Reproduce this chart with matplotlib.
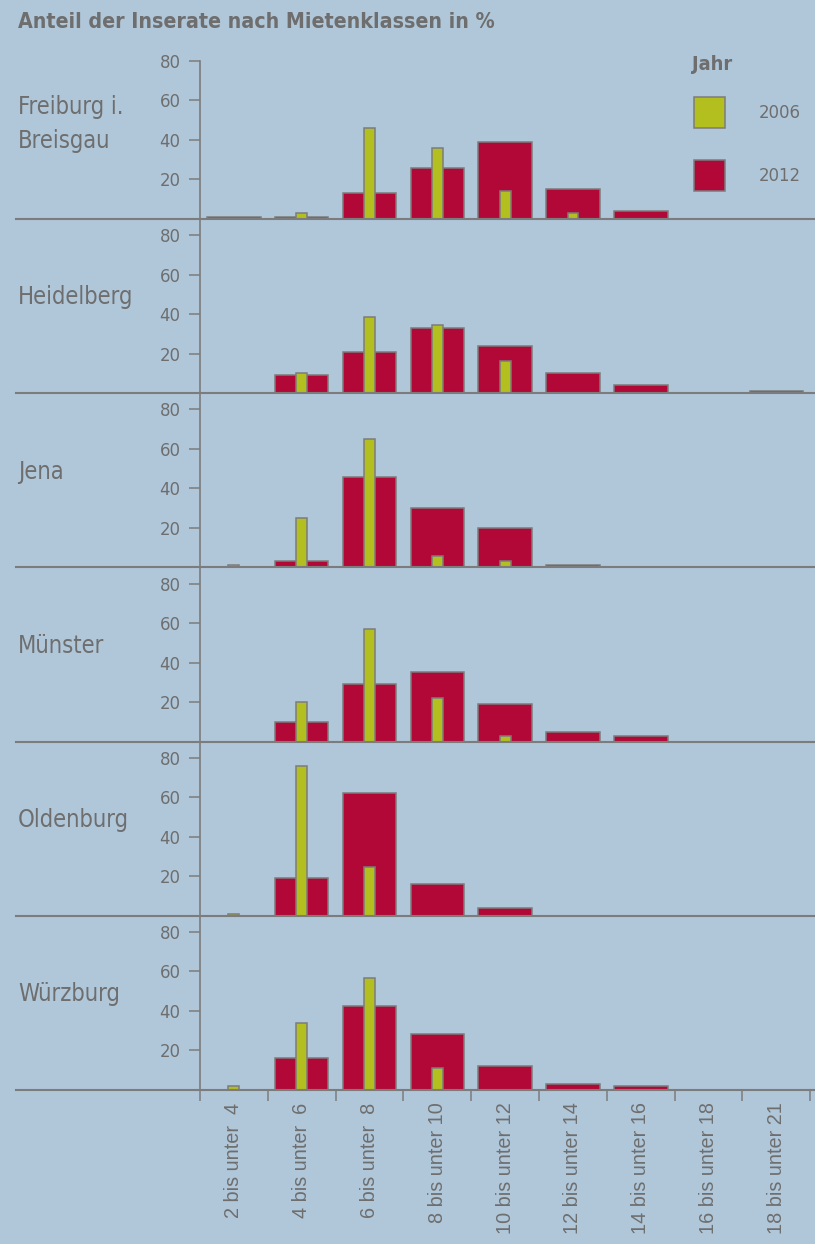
import matplotlib
matplotlib.use("Agg")
import matplotlib.pyplot as plt
import matplotlib.transforms as mtransforms
from matplotlib import font_manager
import numpy as np

# Mietenklassen (Euro pro m2)
kategorien = ["2 bis unter  4", "4 bis unter  6", "6 bis unter  8", "8 bis unter 10",
              "10 bis unter 12", "12 bis unter 14", "14 bis unter 16", "16 bis unter 18",
              "18 bis unter 21"]

staedte = ["Freiburg i.\nBreisgau", "Heidelberg", "Jena", "Münster", "Oldenburg", "Würzburg"]

# Anteil der Inserate in %
freiburg_2006 = [0, 3, 46, 36, 14, 3, 0, 0, 0]
freiburg_2012 = [1, 1, 13, 26, 39, 15, 4, 0, 0]
heidelberg_2006 = [0, 10, 38.5, 34.5, 16.5, 0, 0, 0, 0]
heidelberg_2012 = [0, 9, 21, 33, 24, 10, 4, 0, 1]
jena_2006 = [1, 25, 65, 6, 3, 0, 0, 0, 0]
jena_2012 = [0, 3, 46, 30, 20, 1, 0, 0, 0]
muenster_2006 = [0, 20, 57, 22, 3, 0, 0, 0, 0]
muenster_2012 = [0, 10, 29, 35, 19, 5, 3, 0, 0]
oldenburg_2006 = [1, 76, 24.5, 0, 0, 0, 0, 0, 0]
oldenburg_2012 = [0, 19, 62, 16, 4, 0, 0, 0, 0]
wuerzburg_2006 = [2, 34, 56.5, 11, 0, 0, 0, 0, 0]
wuerzburg_2012 = [0, 16, 42.5, 28.5, 12, 3, 2, 0, 0]

werte_2006 = [freiburg_2006, heidelberg_2006, jena_2006, muenster_2006, oldenburg_2006, wuerzburg_2006]
werte_2012 = [freiburg_2012, heidelberg_2012, jena_2012, muenster_2012, oldenburg_2012, wuerzburg_2012]

hintergrund = "#b0c7da"
rot = "#b20838"
gelb = "#b3be1f"
rand = "#7c7c7c"
textgrau = "#6e6e6e"

# schmale DejaVu, falls installiert
schmal_da = any(f.name == "DejaVu Sans" and "condensed" in str(f.stretch)
                for f in font_manager.fontManager.ttflist)
if schmal_da:
    schrift = {"family": "DejaVu Sans", "stretch": "condensed"}
    k = 1.1
else:
    schrift = {"family": "DejaVu Sans", "stretch": "normal"}
    k = 1.0

W, H = 815, 1244
fig = plt.figure(figsize=(W / 100, H / 100), dpi=100, facecolor=hintergrund)

panel_h = 174.2
basis0 = 219
x = np.arange(len(kategorien))

for i, stadt in enumerate(staedte):
    unten = basis0 + i * panel_h
    ax = fig.add_axes([200 / W, 1 - unten / H, 615 / W, panel_h / H])
    ax.set_facecolor("none")

    w12 = np.array(werte_2012[i], dtype=float)
    w06 = np.array(werte_2006[i], dtype=float)
    m12 = w12 > 0
    m06 = w06 > 0
    b12 = ax.bar(x[m12], w12[m12], width=0.79, color=rot, edgecolor=rand, linewidth=1.1, zorder=2)
    b06 = ax.bar(x[m06], w06[m06], width=0.16, color=gelb, edgecolor=rand, linewidth=1.1, zorder=3)
    if i == 0:
        h12, h06 = b12, b06

    ax.set_xlim(-0.5, 8.57)
    ax.set_ylim(0, 88.2)

    for s in ["top", "right", "bottom"]:
        ax.spines[s].set_visible(False)
    ax.spines["left"].set_color(rand)
    ax.spines["left"].set_linewidth(1.2)
    if i == 0:
        ax.spines["left"].set_bounds(0, 80)

    ax.set_yticks([20, 40, 60, 80])
    ax.tick_params(axis="y", direction="out", length=8, width=1.1, color=rand,
                   labelcolor=textgrau, labelsize=12 * k, pad=6)
    for t in ax.get_yticklabels():
        t.set_fontfamily(schrift["family"])
        t.set_fontstretch(schrift["stretch"])

    # Grundlinie ueber die ganze Breite
    trans = mtransforms.blended_transform_factory(fig.transFigure, ax.transData)
    ax.plot([16 / W, 1], [0, 0], transform=trans, color=rand, linewidth=1.5,
            clip_on=False, zorder=4)

    # Stadtname
    y_text = 36 if "\n" in stadt else 45
    ax.text(18 / W, y_text, stadt, transform=trans, ha="left", va="baseline",
            fontsize=15.5 * k, color=textgrau, linespacing=1.5, **schrift)

    if i < len(staedte) - 1:
        ax.set_xticks([])
    else:
        ax.set_xticks(x)
        ax.set_xticklabels(kategorien, rotation=90, ha="center", va="top",
                           family="Liberation Sans", fontsize=14.3, color=textgrau)
        ax.set_xticks(np.arange(-0.5, 9, 1), minor=True)
        ax.tick_params(axis="x", which="major", length=0, pad=9)
        ax.tick_params(axis="x", which="minor", direction="out", length=8,
                       width=1.1, color=rand)

fig.text(18 / W, 1 - 22 / H, "Anteil der Inserate nach Mietenklassen in %",
         ha="left", va="center", fontsize=13.9 * k, fontweight="bold",
         color=textgrau, **schrift)

# Legende
fig.text(692 / W, 1 - 65 / H, "Jahr", ha="left", va="center", fontsize=13 * k,
         fontweight="bold", color=textgrau, **schrift)
leg_fs = 12 * k
leg = fig.legend(handles=[h06, h12], labels=["2006", "2012"],
                 loc="upper left", bbox_to_anchor=(694 / W, 1 - 97 / H),
                 frameon=False, prop={"size": leg_fs, **schrift},
                 handlelength=31 / (leg_fs * 100 / 72), handleheight=2.23,
                 handletextpad=34 / (leg_fs * 100 / 72), labelspacing=1.75,
                 borderpad=0, borderaxespad=0, labelcolor=textgrau)

fig.savefig("out.png", dpi=100, facecolor=hintergrund)
